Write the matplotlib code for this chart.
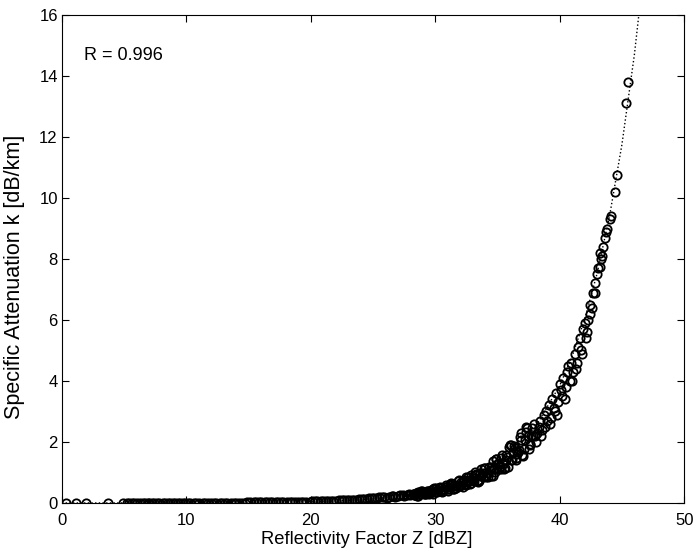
import numpy as np
import matplotlib.pyplot as plt

plt.rcParams['font.family'] = ['Liberation Sans', 'DejaVu Sans']

# fitted curve
z_fit = [0, 5, 10, 15, 20, 22, 24, 26, 28, 30, 32, 34, 36, 38, 40, 41, 42, 43, 44, 45, 46, 46.6]
k_fit = [0.0, 0.0016, 0.0047, 0.0145, 0.044, 0.069, 0.107, 0.169, 0.264, 0.41, 0.645, 1.0,
         1.58, 2.46, 3.85, 4.81, 6.02, 7.52, 9.4, 11.76, 14.7, 16.9]

# observations: low reflectivity part (k close to zero)
z_low = [0.3, 1.1, 1.9, 3.7, 4.9, 5.2, 5.6, 6.0, 6.3, 6.7, 7.0, 7.4, 7.8, 8.1, 8.5, 8.9, 9.3,
         9.7, 10.1, 10.6, 11.0, 11.5, 12.0, 12.4, 12.9, 13.3, 13.8, 14.2, 14.7, 15.1, 15.6,
         16.0, 16.5, 16.9, 17.4, 17.8, 18.3, 18.7, 19.2, 19.6, 20.1, 20.5, 21.0, 21.4, 21.8,
         22.3, 22.7, 23.1, 23.5, 23.9, 24.3, 24.7, 25.1, 25.5, 25.9, 26.3, 26.6, 27.0, 27.4,
         27.7, 28.0,
         5.4, 5.8, 6.5, 6.9, 7.2, 7.6, 8.3, 8.7, 9.1, 9.5, 9.9, 10.3, 10.8, 11.3, 11.7, 12.2,
         12.7, 13.1, 13.6, 14.0, 14.5, 14.9, 15.4, 15.8, 16.3, 16.7, 17.2, 17.6, 18.1, 18.5,
         19.0, 19.4, 19.9, 20.3, 20.8, 21.2, 21.6, 22.0, 22.5, 22.9, 23.3, 23.7, 24.1, 24.5,
         24.9, 25.3, 25.7, 26.1, 26.5, 26.8, 27.2, 27.5, 27.9]
k_low = [0.0, 0.0, 0.0, 0.0, 0.0016, 0.0017, 0.0019, 0.0020, 0.0022, 0.0024, 0.0026, 0.0029,
         0.0031, 0.0034, 0.0037, 0.0040, 0.0044, 0.0048, 0.0053, 0.0059, 0.0065, 0.0072,
         0.0080, 0.0088, 0.010, 0.011, 0.012, 0.013, 0.015, 0.016, 0.018, 0.020, 0.022, 0.025,
         0.027, 0.030, 0.034, 0.037, 0.041, 0.045, 0.050, 0.055, 0.061, 0.067, 0.074, 0.082,
         0.090, 0.099, 0.11, 0.12, 0.13, 0.15, 0.16, 0.18, 0.19, 0.21, 0.22, 0.24, 0.26, 0.27,
         0.26,
         0.0018, 0.002, 0.0023, 0.0025, 0.0027, 0.003, 0.0035, 0.0039, 0.0042, 0.0046, 0.005,
         0.0056, 0.0062, 0.0069, 0.0076, 0.0084, 0.0094, 0.010, 0.011, 0.013, 0.014, 0.016,
         0.017, 0.019, 0.021, 0.024, 0.026, 0.029, 0.032, 0.036, 0.039, 0.043, 0.048, 0.053,
         0.058, 0.064, 0.07, 0.075, 0.09, 0.085, 0.11, 0.10, 0.13, 0.12, 0.17, 0.15, 0.2, 0.17,
         0.24, 0.2, 0.27, 0.22, 0.3]

# observations: middle part
z_mid = [28.2, 28.3, 28.4, 28.5, 28.6, 28.7, 28.8, 28.9, 29.0, 29.1, 29.2, 29.3, 29.4, 29.5,
         29.6, 29.7, 29.8, 29.9, 30.0, 30.1, 30.2, 30.3, 30.4, 30.5, 30.6, 30.7, 30.8, 30.9,
         31.0, 31.1, 31.2, 31.3, 31.4, 31.5, 31.6, 31.7, 31.8, 31.9, 32.0, 32.1, 32.2, 32.3,
         32.4, 32.5, 32.6, 32.7, 32.8, 32.9, 33.0, 33.1, 33.2, 33.3, 33.4, 33.5, 33.6, 33.7,
         33.8, 33.9, 34.0, 34.1, 34.2, 34.3, 34.4, 34.5, 34.6, 34.7, 34.8, 34.9, 35.0, 35.1,
         35.2, 35.3, 35.4, 35.5, 35.6, 35.7, 35.8, 35.9, 36.0, 36.1, 36.2, 36.3, 36.4, 36.5,
         36.6, 36.7, 36.8, 36.9, 37.0, 37.1, 37.2, 37.3, 37.4, 37.5, 37.6, 37.7, 37.8, 37.9,
         38.0,
         28.25, 28.45, 28.65, 28.85, 29.05, 29.25, 29.45, 29.65, 29.85, 30.05, 30.25, 30.45,
         30.65, 30.85, 31.05, 31.25, 31.45, 31.65, 31.85, 32.05, 32.25, 32.45, 32.65, 32.85,
         33.05, 33.25, 33.45, 33.65, 33.85, 34.05, 34.25, 34.45, 34.65, 34.85, 35.05, 35.25,
         35.45, 35.65, 35.85, 36.05, 36.25, 36.45, 36.65, 36.85, 37.05, 37.25, 37.45, 37.65,
         37.85]
k_mid = [0.28, 0.31, 0.25, 0.24, 0.35, 0.29, 0.28, 0.38, 0.36, 0.30, 0.28, 0.39, 0.38, 0.30,
         0.34, 0.37, 0.45, 0.48, 0.35, 0.37, 0.43, 0.48, 0.54, 0.37, 0.38, 0.46, 0.51, 0.59,
         0.46, 0.46, 0.62, 0.60, 0.45, 0.46, 0.59, 0.57, 0.73, 0.74, 0.55, 0.58, 0.71, 0.76,
         0.63, 0.58, 0.85, 0.72, 0.62, 0.93, 0.81, 0.72, 1.01, 0.95, 0.75, 0.72, 0.97, 0.89,
         0.86, 1.16, 1.15, 0.90, 0.84, 1.18, 1.09, 0.90, 1.37, 1.11, 1.02, 1.45, 1.32, 1.13,
         1.18, 1.47, 1.58, 1.12, 1.15, 1.40, 1.50, 1.82, 1.90, 1.42, 1.40, 1.86, 1.81, 1.41,
         1.62, 1.75, 2.16, 2.28, 1.58, 1.77, 2.06, 2.32, 2.47, 1.76, 1.91, 2.19, 2.47, 2.60,
         2.21,
         0.26, 0.32, 0.24, 0.38, 0.33, 0.30, 0.34, 0.41, 0.31, 0.50, 0.44, 0.39, 0.44, 0.53,
         0.40, 0.65, 0.57, 0.50, 0.57, 0.70, 0.53, 0.85, 0.75, 0.66, 0.75, 0.92, 0.69, 1.12,
         0.97, 0.86, 0.98, 1.19, 0.90, 1.45, 1.27, 1.13, 1.28, 1.57, 1.19, 1.91, 1.67, 1.48,
         1.67, 2.06, 1.55, 2.50, 2.18, 1.94, 2.19]

# observations: high reflectivity part
z_high = [38.2, 38.4, 38.5, 38.7, 38.8, 39.0, 39.1, 39.3, 39.4, 39.6, 39.7, 39.9, 40.0, 40.2,
          40.3, 40.5, 40.6, 40.8, 40.9, 41.1, 41.2, 41.4, 41.5, 41.7, 41.9, 42.1, 42.3, 42.45,
          42.6, 42.7, 42.85, 43.0, 43.1, 43.25, 43.3, 43.4, 43.65, 43.7, 44.0, 44.1, 44.45,
          44.6, 45.3, 45.5,
          38.1, 38.3, 38.6, 38.9, 39.2, 39.5, 39.8, 40.1, 40.4, 40.7, 41.0, 41.3, 41.6, 41.8,
          42.0, 42.2, 42.4, 42.8, 43.2, 43.5, 43.8]
k_high = [2.3, 2.7, 2.2, 2.9, 2.5, 2.7, 3.2, 2.8, 3.4, 3.0, 3.6, 3.3, 3.9, 3.5, 4.1, 3.8, 4.3,
          4.0, 4.6, 4.3, 4.9, 4.6, 5.1, 5.0, 5.7, 5.4, 6.0, 6.2, 6.4, 6.9, 6.9, 7.5, 7.7, 7.75,
          8.0, 8.1, 8.7, 8.9, 9.3, 9.4, 10.2, 10.75, 13.1, 13.8,
          2.0, 2.5, 2.4, 3.0, 2.6, 3.1, 2.9, 3.7, 3.4, 4.5, 4.0, 4.4, 5.4, 4.9, 5.9, 5.6, 6.5,
          7.2, 8.2, 8.4, 9.0]

z_obs = z_low + z_mid + z_high
k_obs = k_low + k_mid + k_high

fig = plt.figure(figsize=(6.96, 5.57), dpi=100)
ax = fig.add_axes([0.089, 0.097, 0.894, 0.876])

ax.plot(z_obs, k_obs, 'o', markersize=6, markerfacecolor='none',
        markeredgecolor='black', markeredgewidth=1.3, linestyle='none')
ax.plot(z_fit, k_fit, ':', color='black', linewidth=1.0)

ax.set_xlim(0, 50)
ax.set_ylim(0, 16)
ax.set_xticks(np.arange(0, 51, 10))
ax.set_yticks(np.arange(0, 17, 2))
ax.tick_params(direction='in', top=True, right=True, length=5, width=0.8, labelsize=12)
ax.tick_params(axis='x', pad=7)
ax.tick_params(axis='y', pad=3)
for s in ax.spines.values():
    s.set_linewidth(0.8)

ax.set_xlabel('Reflectivity Factor Z [dBZ]', fontsize=13.2, labelpad=1)
ax.xaxis.set_label_coords(0.49, -0.058)
ax.set_ylabel('Specific Attenuation k [dB/km]', fontsize=15.5, labelpad=2)
ax.yaxis.set_label_coords(-0.06, 0.463)
ax.text(0.035, 0.918, 'R = 0.996', transform=ax.transAxes, fontsize=13, va='center', ha='left')

fig.savefig('out.png', dpi=100)
